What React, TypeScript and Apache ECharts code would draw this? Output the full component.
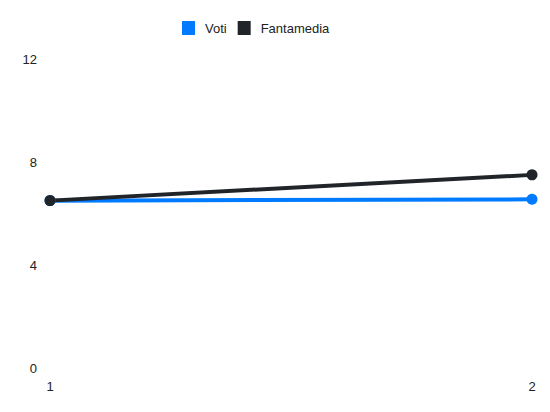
import { useEffect, useRef } from 'react';
import * as echarts from 'echarts';

const giornate = ['1', '2'];
const voti = [6.5, 6.55];
const fantamedia = [6.5, 7.5];
const yTicks = { min: 0, max: 12, interval: 4 };

const BLUE = '#007bff';
const DARK = '#212529';
const TEXT = '#222';
const FONT = '"Liberation Sans", Arial, sans-serif';

export default function App() {
  const chartRef = useRef<HTMLDivElement>(null);

  useEffect(() => {
    if (!chartRef.current) return;
    const chart = echarts.init(chartRef.current, undefined, { renderer: 'svg' });

    const lineSeries = (name: string, data: number[], color: string) => ({
      name,
      type: 'line',
      data,
      symbol: 'circle',
      symbolSize: 11,
      showSymbol: true,
      lineStyle: { color, width: 4 },
      itemStyle: { color },
    });

    chart.setOption({
      animation: false,
      textStyle: { fontFamily: FONT },
      legend: {
        top: 16,
        left: 177,
        icon: 'rect',
        itemWidth: 13,
        itemHeight: 14,
        itemGap: 11,
        textStyle: { color: TEXT, fontSize: 13, fontFamily: FONT, padding: [0, 0, 0, 5] },
        data: ['Voti', 'Fantamedia'],
      },
      grid: { left: 50, right: 18, top: 59, bottom: 44 },
      xAxis: {
        type: 'category',
        data: giornate,
        boundaryGap: false,
        axisLine: { show: false },
        axisTick: { show: false },
        splitLine: { show: false },
        axisLabel: { color: TEXT, fontSize: 13, fontFamily: FONT, margin: 12 },
      },
      yAxis: {
        type: 'value',
        min: yTicks.min,
        max: yTicks.max,
        interval: yTicks.interval,
        axisLine: { show: false },
        axisTick: { show: false },
        splitLine: { show: false },
        axisLabel: { color: TEXT, fontSize: 13, fontFamily: FONT, margin: 13 },
      },
      series: [
        lineSeries('Voti', voti, BLUE),
        lineSeries('Fantamedia', fantamedia, DARK),
      ],
    });

    return () => {
      chart.dispose();
    };
  }, []);

  return (
    <div
      ref={chartRef}
      style={{ position: 'fixed', left: 0, top: 0, width: 550, height: 412, background: '#fff' }}
    />
  );
}
